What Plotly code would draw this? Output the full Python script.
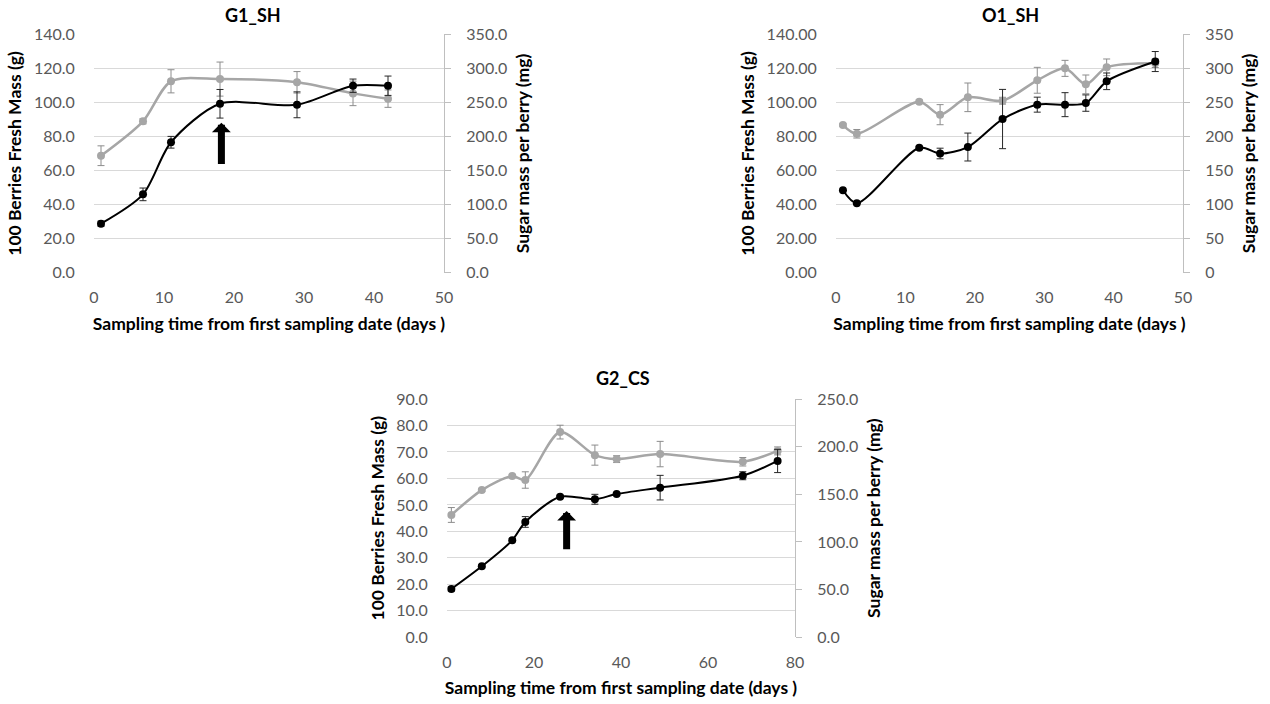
import plotly.graph_objects as go

# ---------------- data ----------------
g1_days = [1, 7, 11, 18, 29, 37, 42]
g1_fresh = [68.7, 88.9, 112.4, 113.7, 111.8, 105.3, 102.2]
g1_fresh_err = [5.8, 1.5, 6.8, 10.0, 6.3, 7.2, 5.1]
g1_sugar = [72.0, 115.0, 191.5, 248.0, 246.5, 274.5, 274.5]
g1_sugar_err = [3.7, 9.3, 8.6, 21.0, 19.0, 9.8, 14.2]

o1_days = [1, 3, 12, 15, 19, 24, 29, 33, 36, 39, 46]
o1_fresh = [86.7, 81.6, 100.4, 92.8, 103.0, 101.0, 113.0, 120.0, 110.6, 120.6, 123.0]
o1_fresh_err = [0.8, 2.5, 1.0, 5.9, 8.4, 2.0, 7.6, 4.7, 5.5, 4.9, 2.5]
o1_sugar = [121.0, 102.0, 183.5, 175.0, 184.5, 225.6, 246.7, 246.7, 249.0, 281.0, 310.0]
o1_sugar_err = [0.0, 0.0, 2.0, 7.8, 20.5, 43.5, 11.0, 17.6, 12.0, 12.2, 14.7]

g2_days = [1, 8, 15, 18, 26, 34, 39, 49, 68, 76]
g2_fresh = [46.2, 55.6, 60.9, 59.4, 77.5, 68.8, 67.3, 69.2, 66.3, 70.4]
g2_fresh_err = [2.8, 0.5, 0.5, 3.1, 2.6, 3.8, 1.3, 4.8, 1.6, 1.5]
g2_sugar = [50.7, 74.5, 101.8, 121.0, 147.5, 144.8, 150.3, 157.0, 169.5, 185.0]
g2_sugar_err = [2.2, 1.5, 1.5, 5.6, 1.5, 5.2, 1.5, 12.9, 4.2, 12.2]

titles = ["G1_SH", "O1_SH", "G2_CS"]
x_title = "Sampling time from first sampling date (days )"
y_left_title = "100 Berries Fresh Mass (g)"
y_right_title = "Sugar mass per berry (mg)"

# arrows (day, tip value, tail value) in left-axis units
g1_arrow = (18.2, 88.0, 63.0)
g2_arrow = (27.5, 47.7, 32.7)

# ---------------- style ----------------
FONT = "Lato"
GREY = "#A6A6A6"
GRID = "#D9D9D9"
TICKC = "#595959"
W, H = 1270, 704

def px(x0, x1):
    return [x0 / W, x1 / W]

def py(top, bottom):
    return [1 - bottom / H, 1 - top / H]

panels = [
    dict(days=g1_days, fresh=g1_fresh, ferr=g1_fresh_err, sugar=g1_sugar, serr=g1_sugar_err,
         xdom=px(94, 444), ydom=py(34.3, 272.7), xr=[0, 50], xd=10,
         yr=[0, 140], yd=20, yfmt=".1f", y2r=[0, 350], y2d=50, y2fmt=".1f", tx=253, ty=15),
    dict(days=o1_days, fresh=o1_fresh, ferr=o1_fresh_err, sugar=o1_sugar, serr=o1_sugar_err,
         xdom=px(836, 1183), ydom=py(34.3, 272.7), xr=[0, 50], xd=10,
         yr=[0, 140], yd=20, yfmt=".2f", y2r=[0, 350], y2d=50, y2fmt="d", tx=1010, ty=15),
    dict(days=g2_days, fresh=g2_fresh, ferr=g2_fresh_err, sugar=g2_sugar, serr=g2_sugar_err,
         xdom=px(447, 795), ydom=py(399, 637.3), xr=[0, 80], xd=20,
         yr=[0, 90], yd=10, yfmt=".1f", y2r=[0, 250], y2d=50, y2fmt=".1f", tx=623, ty=378),
]

fig = go.Figure()
layout = dict(width=W, height=H, margin=dict(l=0, r=0, t=0, b=0, autoexpand=False),
              paper_bgcolor="white", plot_bgcolor="white", showlegend=False,
              font=dict(family=FONT, size=16, color=TICKC))
annotations = []
TICKF = dict(family=FONT, size=16, color=TICKC)
TITLEF = dict(family=FONT, size=17.5, color="black")

for i, p in enumerate(panels):
    xn = "x" if i == 0 else f"x{i+1}"
    yl = 2 * i + 1
    yr = 2 * i + 2
    yln = "y" if yl == 1 else f"y{yl}"
    yrn = f"y{yr}"
    # grey: fresh mass (left axis)
    fig.add_trace(go.Scatter(
        x=p["days"], y=p["fresh"], xaxis=xn, yaxis=yln, mode="lines+markers",
        line=dict(color=GREY, width=2.5, shape="spline", smoothing=0.8),
        marker=dict(color=GREY, size=8, symbol="circle"),
        error_y=dict(type="data", array=p["ferr"], visible=True, color="#8C8C8C",
                     thickness=1, width=3.5)))
    # black: sugar mass (right axis)
    fig.add_trace(go.Scatter(
        x=p["days"], y=p["sugar"], xaxis=xn, yaxis=yrn, mode="lines+markers",
        line=dict(color="black", width=2, shape="spline", smoothing=0.8),
        marker=dict(color="black", size=8, symbol="circle"),
        error_y=dict(type="data", array=p["serr"], visible=True, color="#262626",
                     thickness=1, width=3.5)))

    xkey = "xaxis" if i == 0 else f"xaxis{i+1}"
    ylkey = "yaxis" if yl == 1 else f"yaxis{yl}"
    yrkey = f"yaxis{yr}"
    layout[xkey] = dict(domain=p["xdom"], anchor=yln, range=p["xr"], dtick=p["xd"],
                        showgrid=False, zeroline=False, showline=False, automargin=False,
                        ticks="outside", ticklen=10, tickcolor="rgba(0,0,0,0)",
                        tickfont=TICKF,
                        title=dict(text=f"<b>{x_title}</b>", standoff=12, font=TITLEF))
    layout[ylkey] = dict(domain=p["ydom"], anchor=xn, range=p["yr"], dtick=p["yd"],
                         tickformat=p["yfmt"], showgrid=True, gridcolor=GRID, gridwidth=1.3,
                         zeroline=False, showline=False, automargin=False,
                         ticks="outside", ticklen=15, tickcolor="rgba(0,0,0,0)",
                         tickfont=TICKF,
                         title=dict(text=f"<b>{y_left_title}</b>", standoff=7, font=TITLEF))
    layout[yrkey] = dict(overlaying=yln, anchor=xn, side="right", range=p["y2r"], dtick=p["y2d"],
                         tickformat=p["y2fmt"], showgrid=False, zeroline=False, automargin=False,
                         showline=True, linecolor="#BFBFBF", linewidth=1.3,
                         ticks="outside", ticklen=6, tickcolor="#BFBFBF",
                         ticklabelstandoff=12,
                         tickfont=TICKF,
                         title=dict(text=f"<b>{y_right_title}</b>", standoff=10, font=TITLEF))
    annotations.append(dict(text=f"<b>{titles[i]}</b>", xref="paper", yref="paper",
                            x=p["tx"] / W, y=1 - p["ty"] / H,
                            xanchor="center", yanchor="middle", showarrow=False,
                            font=dict(family=FONT, size=18, color="black")))

for (ax_x, ax_y, arr) in [("x", "y", g1_arrow), ("x3", "y5", g2_arrow)]:
    annotations.append(dict(x=arr[0], y=arr[1], ax=arr[0], ay=arr[2],
                            xref=ax_x, yref=ax_y, axref=ax_x, ayref=ax_y,
                            showarrow=True, arrowhead=1, arrowwidth=7, arrowsize=0.45,
                            arrowcolor="black", text=""))

layout["annotations"] = annotations
fig.update_layout(**layout)
fig.write_html("out.html", config={"displayModeBar": False},
               post_script="document.body.style.margin='0';document.body.style.overflow='hidden';")
